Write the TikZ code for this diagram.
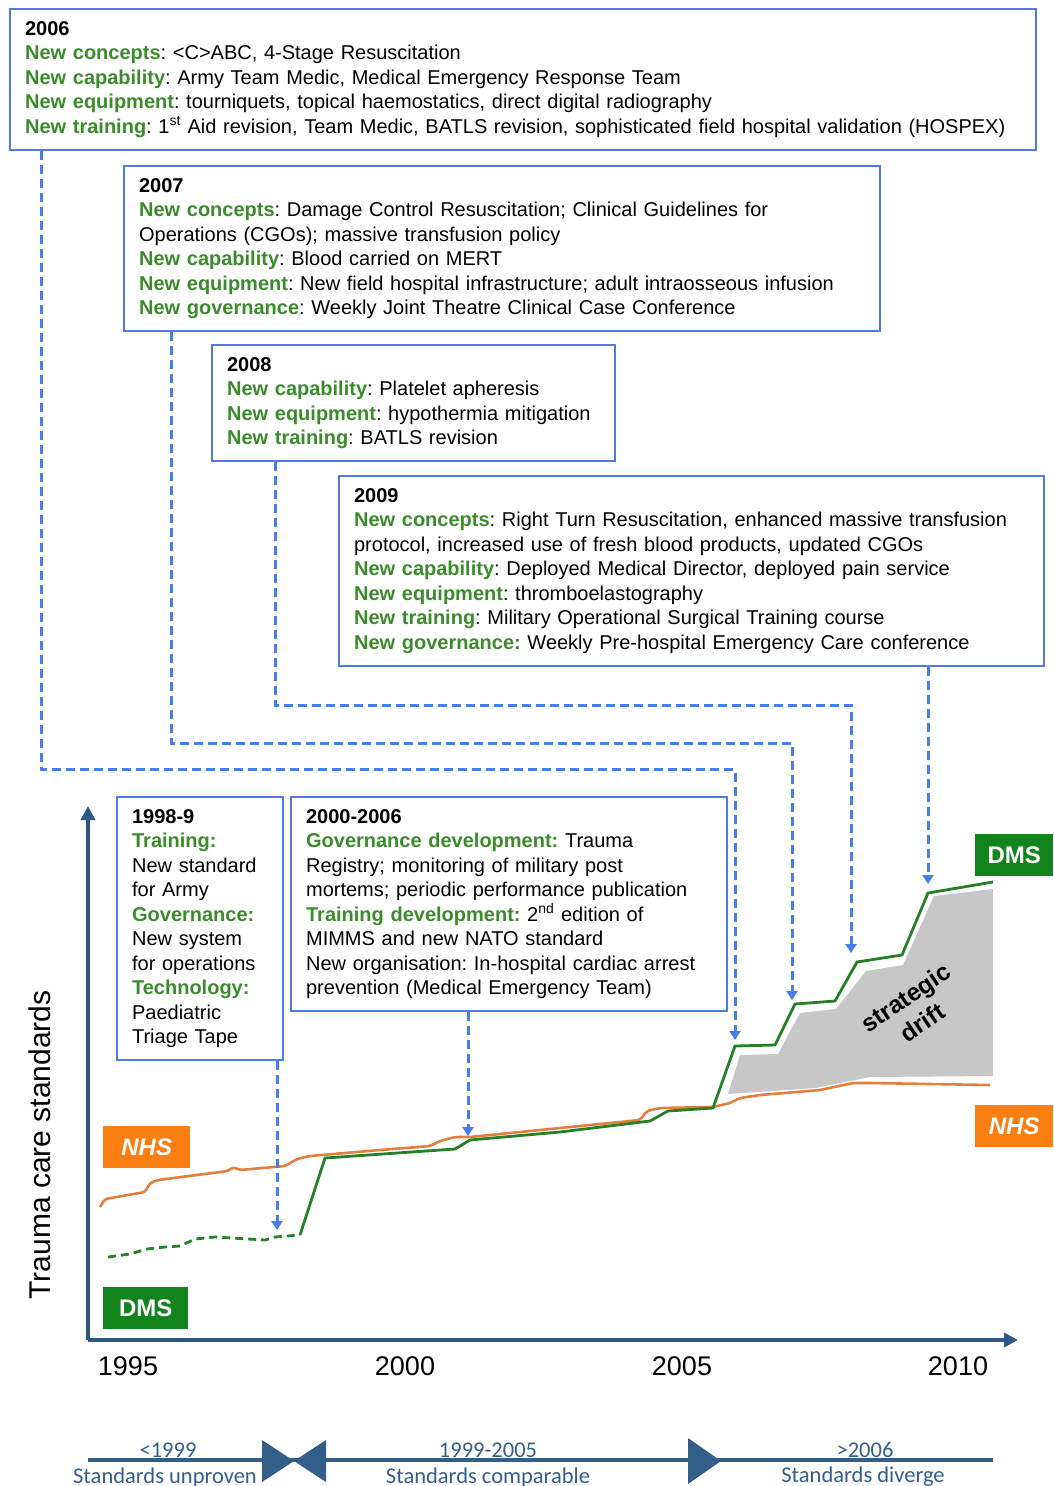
\documentclass[tikz,border=0pt]{standalone}
\usepackage{fontspec}
\setmainfont{Liberation Sans}
\newfontfamily\calibfont{Carlito}
\usetikzlibrary{arrows.meta}
\definecolor{boxblue}{RGB}{78,124,226}
\definecolor{dashblue}{RGB}{72,125,240}
\definecolor{kwgreen}{RGB}{58,140,42}
\definecolor{dmsgreen}{RGB}{18,132,30}
\definecolor{dmsline}{RGB}{38,128,40}
\definecolor{nhsorange}{RGB}{250,126,18}
\definecolor{nhsline}{RGB}{226,126,62}
\definecolor{axisblue}{RGB}{46,88,134}
\definecolor{phaseblue}{RGB}{52,94,138}
\newcommand{\kw}[1]{\textcolor{kwgreen}{\textbf{#1}}}
\frenchspacing

\begin{document}
\begin{tikzpicture}[x=1pt,y=-1pt]
\tikzset{infobox/.style={draw=boxblue,line width=2.2pt,fill=white,anchor=north west,align=left,inner xsep=15pt,inner ysep=9pt,font=\fontsize{20}{24.5}\selectfont,execute at begin node=\strut,execute at end node=\strut},
link/.style={dashblue,line width=3pt,dash pattern=on 9pt off 5pt,-{Triangle[width=11pt,length=9pt]}},
tag/.style={text=white,font=\fontsize{24}{24}\selectfont\bfseries,minimum height=42pt,inner sep=0pt,anchor=north west},
phase/.style={text=phaseblue,font=\calibfont\fontsize{22.5}{22.5}\selectfont}}
\useasboundingbox (0,0) rectangle (1053,1486);

% event boxes
\node[infobox,text width=996pt] (b06) at (9,8) {\textbf{2006}\\
\kw{New concepts}: <C>ABC, 4-Stage Resuscitation\\
\kw{New capability}: Army Team Medic, Medical Emergency Response Team\\
\kw{New equipment}: tourniquets, topical haemostatics, direct digital radiography\\
\kw{New training}: 1\textsuperscript{st} Aid revision, Team Medic, BATLS revision, sophisticated field hospital validation (HOSPEX)};
\node[infobox,text width=726pt] (b07) at (123,165) {\textbf{2007}\\
\kw{New concepts}: Damage Control Resuscitation; Clinical Guidelines for\\
Operations (CGOs); massive transfusion policy\\
\kw{New capability}: Blood carried on MERT\\
\kw{New equipment}: New field hospital infrastructure; adult intraosseous infusion\\
\kw{New governance}: Weekly Joint Theatre Clinical Case Conference};
\node[infobox,text width=373pt] (b08) at (211,344) {\textbf{2008}\\
\kw{New capability}: Platelet apheresis\\
\kw{New equipment}: hypothermia mitigation\\
\kw{New training}: BATLS revision};
\node[infobox,text width=675pt] (b09) at (338,475) {\textbf{2009}\\
\kw{New concepts}: Right Turn Resuscitation, enhanced massive transfusion\\
protocol, increased use of fresh blood products, updated CGOs\\
\kw{New capability}: Deployed Medical Director, deployed pain service\\
\kw{New equipment}: thromboelastography\\
\kw{New training}: Military Operational Surgical Training course\\
\kw{New governance:} Weekly Pre-hospital Emergency Care conference};
\node[infobox,text width=136pt] (b98) at (116,796) {\textbf{1998-9}\\
\kw{Training:}\\
New standard\\
for Army\\
\kw{Governance:}\\
New system\\
for operations\\
\kw{Technology:}\\
Paediatric\\
Triage Tape};
\node[infobox,text width=406pt] (b00) at (290,796) {\textbf{2000-2006}\\
\kw{Governance development:} Trauma\\
Registry; monitoring of military post\\
mortems; periodic performance publication\\
\kw{Training development:} 2\textsuperscript{nd} edition of\\
MIMMS and new NATO standard\\
New organisation: In-hospital cardiac arrest\\
prevention (Medical Emergency Team)};

% drift area and curves
\fill[black!22] (728,1094) -- (740,1055) -- (778,1054) -- (800,1013) -- (836,1009) -- (866,971) -- (903,965) -- (934,896) -- (993,889) -- (993,1076) -- (870,1077) -- (815,1088) -- cycle;
\node[rotate=34,align=center,font=\fontsize{24.5}{30}\selectfont\bfseries] (drift) at (914,1010) {strategic\\drift};
\draw[nhsline,line width=2.6pt,rounded corners=3pt] (100,1207) -- (105,1199) -- (145,1192) -- (150,1183) -- (158,1180) -- (228,1171) -- (233,1167) -- (240,1170) -- (285,1166) -- (297,1159) -- (310,1156) -- (380,1150) -- (430,1146) -- (440,1141) -- (455,1137) -- (470,1137) -- (560,1128) -- (640,1120) -- (647,1111) -- (660,1108) -- (713,1107) -- (730,1103) -- (740,1098) -- (760,1095) -- (820,1090) -- (853,1083) -- (870,1083) -- (990,1085);
\draw[dmsline,line width=2.8pt,dash pattern=on 8pt off 5pt] (108,1257) -- (130,1254) -- (147,1249) -- (165,1247) -- (180,1246) -- (195,1239) -- (215,1237) -- (265,1240) -- (275,1237) -- (300,1235);
\draw[dmsline,line width=2.8pt] (300,1235) -- (325,1158) -- (455,1149) -- (470,1140) -- (560,1132) -- (650,1121) -- (668,1111) -- (713,1108) -- (735,1046) -- (775,1045) -- (795,1004) -- (835,1001) -- (857,962) -- (902,955) -- (928,893) -- (993,882);

% arrow targets on the DMS line
\coordinate (t06) at (735,1040);
\coordinate (t07) at (792,1000);
\coordinate (t08) at (851,953);
\coordinate (t09) at (928,884);
\coordinate (t98) at (277,1230);
\coordinate (t00) at (468,1136);

\draw[link] ([xshift=32pt]b06.south west) -- ++(0,619) -| (t06);
\draw[link] ([xshift=48pt]b07.south west) -- ++(0,411) -| (t07);
\draw[link] ([xshift=64pt]b08.south west) -- ++(0,243) -| (t08);
\draw[link] (b09.south west -| t09) -- (t09);
\draw[link] (b98.south west -| t98) -- (t98);
\draw[link] (b00.south west -| t00) -- (t00);

% axes
\coordinate (o) at (88,1340);
\draw[axisblue,line width=4pt,-{Triangle[width=14pt,length=14pt]}] (o) -- (88,806);
\draw[axisblue,line width=4pt,-{Triangle[width=14pt,length=14pt]}] (o) -- (1018,1340);
\node[rotate=90,font=\fontsize{30}{30}\selectfont] (ylab) at (40,1145) {Trauma care standards};
\foreach \x/\yr in {128/1995,405/2000,682/2005,958/2010}
  \node[font=\fontsize{27}{27}\selectfont] (y\yr) at (\x,1366) {\yr};

% tags
\node[tag,fill=nhsorange,minimum width=87pt] (nhsL) at (103,1126) {\itshape NHS};
\node[tag,fill=nhsorange,minimum width=78pt] (nhsR) at (975,1105) {\itshape NHS};
\node[tag,fill=dmsgreen,minimum width=85pt] (dmsL) at (103,1287) {DMS};
\node[tag,fill=dmsgreen,minimum width=78pt] (dmsR) at (975,834) {DMS};

% phases
\draw[phaseblue,line width=4pt] (88,1460) -- (993,1460);
\fill[phaseblue] (262,1440) -- (294,1461) -- (262,1482) -- cycle;
\fill[phaseblue] (326,1440) -- (294,1461) -- (326,1482) -- cycle;
\fill[phaseblue] (688,1438) -- (721,1461) -- (688,1484) -- cycle;
\node[phase] (p1a) at (168,1450) {<1999};
\node[phase] (p1b) at (165,1477) {Standards unproven};
\node[phase] (p2a) at (488,1450) {1999-2005};
\node[phase] (p2b) at (488,1477) {Standards comparable};
\node[phase] (p3a) at (865,1450) {>2006};
\node[phase] (p3b) at (863,1477) {Standards diverge};
\end{tikzpicture}
\end{document}
